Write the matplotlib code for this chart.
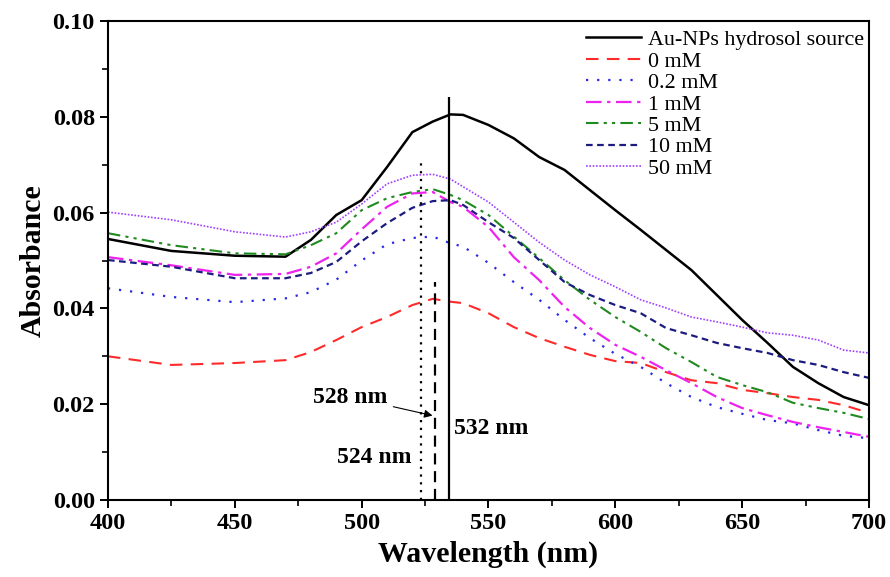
import matplotlib
matplotlib.use("Agg")
import matplotlib.pyplot as plt

# data
wavelength = [400, 425, 450, 470, 480, 490, 500, 510, 520, 528, 535, 540,
              550, 560, 570, 580, 590, 600, 610, 620, 630, 640, 650, 660,
              670, 680, 690, 700]

source = [0.0545, 0.0520, 0.0510, 0.0508, 0.0543, 0.0595, 0.0626, 0.0695, 0.0768, 0.0790, 0.0805, 0.0804,
          0.0783, 0.0755, 0.0716, 0.0689, 0.0647, 0.0605, 0.0564, 0.0522, 0.0480, 0.0428, 0.0376, 0.0328,
          0.0278, 0.0244, 0.0215, 0.0198]
mM_0 = [0.0300, 0.0282, 0.0286, 0.0292, 0.0309, 0.0334, 0.0361, 0.0382, 0.0407, 0.0420, 0.0414, 0.0411,
        0.0390, 0.0361, 0.0338, 0.0320, 0.0303, 0.0290, 0.0286, 0.0267, 0.0250, 0.0244, 0.0230, 0.0223,
        0.0215, 0.0209, 0.0198, 0.0182]
mM_02 = [0.0442, 0.0424, 0.0413, 0.0421, 0.0434, 0.0460, 0.0500, 0.0534, 0.0547, 0.0550, 0.0536, 0.0529,
         0.0495, 0.0455, 0.0418, 0.0376, 0.0338, 0.0305, 0.0278, 0.0244, 0.0215, 0.0194, 0.0180, 0.0167,
         0.0160, 0.0146, 0.0134, 0.0129]
mM_1 = [0.0507, 0.0490, 0.0470, 0.0472, 0.0487, 0.0515, 0.0565, 0.0612, 0.0640, 0.0643, 0.0622, 0.0612,
        0.0570, 0.0507, 0.0459, 0.0403, 0.0359, 0.0324, 0.0299, 0.0271, 0.0244, 0.0215, 0.0192, 0.0177,
        0.0163, 0.0152, 0.0142, 0.0132]
mM_5 = [0.0557, 0.0532, 0.0515, 0.0513, 0.0532, 0.0557, 0.0605, 0.0630, 0.0643, 0.0649, 0.0637, 0.0626,
        0.0595, 0.0550, 0.0505, 0.0459, 0.0418, 0.0382, 0.0351, 0.0317, 0.0288, 0.0257, 0.0240, 0.0225,
        0.0203, 0.0192, 0.0182, 0.0169]
mM_10 = [0.0501, 0.0487, 0.0463, 0.0463, 0.0474, 0.0497, 0.0540, 0.0578, 0.0610, 0.0624, 0.0626, 0.0616,
         0.0580, 0.0547, 0.0501, 0.0455, 0.0428, 0.0407, 0.0390, 0.0359, 0.0344, 0.0328, 0.0317, 0.0307,
         0.0292, 0.0282, 0.0267, 0.0255]
mM_50 = [0.0601, 0.0585, 0.0560, 0.0549, 0.0560, 0.0580, 0.0618, 0.0660, 0.0678, 0.0680, 0.0670, 0.0654,
         0.0622, 0.0580, 0.0538, 0.0501, 0.0470, 0.0445, 0.0418, 0.0401, 0.0382, 0.0372, 0.0361, 0.0349,
         0.0344, 0.0334, 0.0313, 0.0307]

labels = ["Au-NPs hydrosol source", "0 mM", "0.2 mM", "1 mM", "5 mM", "10 mM", "50 mM"]

# peak marker lines (position, top) and their labels
peak_x = [523.5, 529, 534.5]
peak_top = [0.071, 0.0455, 0.0842]
peak_labels = ["524 nm", "528 nm", "532 nm"]

plt.rcParams["font.family"] = ["Liberation Serif", "DejaVu Serif"]

fig = plt.figure(figsize=(8.9, 5.77), dpi=100)
ax = fig.add_axes([0.1213, 0.1334, 0.8551, 0.8302])

series = [source, mM_0, mM_02, mM_1, mM_5, mM_10, mM_50]
styles = [
    dict(color="black", lw=1.8, ls="-"),
    dict(color="#ff2a2a", lw=1.5, ls=(0, (6, 4))),
    dict(color="#2a2ae6", lw=1.6, ls=(0, (1, 4))),
    dict(color="#ee22ee", lw=1.6, ls=(0, (7, 2.5, 1.5, 2.5))),
    dict(color="#1f8a1f", lw=1.5, ls=(0, (6, 2.5, 1.5, 2.5, 1.5, 2.5))),
    dict(color="#1c1c80", lw=1.6, ls=(0, (3, 2))),
    dict(color="#a040ff", lw=1.2, ls=(0, (1, 1))),
]
for y, lab, st in zip(series, labels, styles):
    ax.plot(wavelength, y, label=lab, **st)

vstyles = [(0, (1, 2.5)), (0, (5, 3)), "-"]
for x, top, ls in zip(peak_x, peak_top, vstyles):
    ax.vlines(x, 0, top, colors="black", linestyles=ls, lw=1.6)

ax.annotate(peak_labels[1], xy=(peak_x[1], 0.0175), xytext=(481, 0.0215),
            fontsize=17, fontweight="bold", va="center",
            arrowprops=dict(arrowstyle="-|>", color="black", lw=0.8, mutation_scale=12))
ax.text(536.5, 0.0150, peak_labels[2], fontsize=17, fontweight="bold", va="center")
ax.text(519.5, 0.0088, peak_labels[0], fontsize=17, fontweight="bold", va="center", ha="right")

ax.set_xlim(400, 700)
ax.set_ylim(0, 0.10)
ax.set_xticks(range(400, 701, 50))
ax.set_xticks(range(425, 700, 50), minor=True)
ax.set_yticks([0, 0.02, 0.04, 0.06, 0.08, 0.10])
ax.set_yticks([0.01, 0.03, 0.05, 0.07, 0.09], minor=True)
ax.set_yticklabels([f"{v:.2f}" for v in ax.get_yticks()])

ax.tick_params(which="major", direction="out", length=6, width=1.4, labelsize=17.5)
ax.tick_params(which="minor", direction="out", length=4, width=1.2)
for lab in ax.get_xticklabels() + ax.get_yticklabels():
    lab.set_fontweight("bold")
for sp in ax.spines.values():
    sp.set_linewidth(1.5)

ax.set_xlabel("Wavelength (nm)", fontsize=21.5, fontweight="bold", labelpad=5)
ax.set_ylabel("Absorbance", fontsize=21.5, fontweight="bold", labelpad=4)

ax.legend(loc="upper left", bbox_to_anchor=(0.617, 1.0), frameon=False,
          fontsize=15.8, handlelength=2.5, handletextpad=0.3, labelspacing=0.05,
          borderaxespad=0)

fig.savefig("out.png", dpi=100)
